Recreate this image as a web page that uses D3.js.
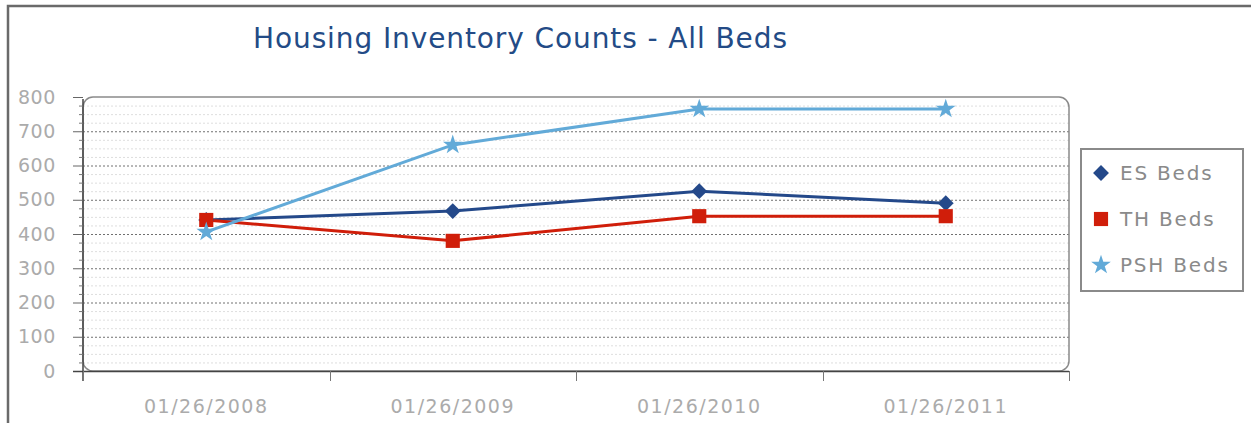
<!DOCTYPE html>
<html>
<head>
<meta charset="utf-8">
<title>Housing Inventory Counts</title>
<script src="https://cdn.jsdelivr.net/npm/d3@7"></script>
<style>
  html, body { margin: 0; padding: 0; background: #fff; overflow: hidden }
  svg { display: block; font-family: Tahoma, Verdana, "DejaVu Sans", sans-serif }
</style>
</head>
<body>
<div id="chart"></div>
<script>
  const dates = ['01/26/2008', '01/26/2009', '01/26/2010', '01/26/2011']
  const esBeds = [441, 467, 525, 490]
  const thBeds = [441, 380, 452, 452]
  const pshBeds = [406, 660, 765, 765]
  const seriesNames = ['ES Beds', 'TH Beds', 'PSH Beds']
  const yTicks = [0, 100, 200, 300, 400, 500, 600, 700, 800]

  const W = 1251, H = 423
  const m = { left: 83, right: 1069, top: 97, bottom: 371 }

  const series = [
    { name: seriesNames[0], values: esBeds, color: '#24498a', shape: d3.symbolDiamond2, size: 160 },
    { name: seriesNames[1], values: thBeds, color: '#d01e0a', shape: d3.symbolSquare, size: 200 },
    { name: seriesNames[2], values: pshBeds, color: '#62aad8', shape: d3.symbolStar, size: 120 }
  ]

  const svg = d3.select('#chart').append('svg')
    .attr('width', W).attr('height', H)

  // outer frame (top and left edges visible)
  svg.append('path')
    .attr('d', `M8,${H} V6 H${W}`)
    .attr('fill', 'none').attr('stroke', '#6a6a6a').attr('stroke-width', 2.5)

  svg.append('text')
    .attr('x', 520).attr('y', 48)
    .attr('text-anchor', 'middle')
    .attr('fill', '#234b86')
    .attr('textLength', 534)
    .style('font-size', '28px')
    .text('Housing Inventory Counts - All Beds')

  const x = d3.scaleBand().domain(dates).range([m.left, m.right])
  const y = d3.scaleLinear().domain([0, 800]).range([m.bottom, m.top])

  // minor grid
  const minor = d3.range(25, 800, 25).filter(d => d % 100 !== 0)
  svg.append('g').selectAll('line').data(minor).enter().append('line')
    .attr('x1', m.left).attr('x2', m.right)
    .attr('y1', d => y(d) + 0.5).attr('y2', d => y(d) + 0.5)
    .attr('stroke', '#dedede').attr('stroke-dasharray', '2,2')

  // major grid
  svg.append('g').selectAll('line').data(yTicks.slice(1, -1)).enter().append('line')
    .attr('x1', m.left).attr('x2', m.right)
    .attr('y1', d => y(d) + 0.5).attr('y2', d => y(d) + 0.5)
    .attr('stroke', '#707070').attr('stroke-dasharray', '2,2')

  // plot frame
  svg.append('rect')
    .attr('x', m.left).attr('y', m.top)
    .attr('width', m.right - m.left).attr('height', m.bottom - m.top)
    .attr('rx', 10)
    .attr('fill', 'none').attr('stroke', '#8a8a8a').attr('stroke-width', 1.5)

  const labelFont = 'Verdana, "DejaVu Sans", sans-serif'

  // y axis
  const yAxis = d3.axisLeft(y).tickValues(yTicks).tickSize(10).tickPadding(17)
  const gy = svg.append('g').attr('transform', `translate(${m.left},0)`).call(yAxis)
  gy.select('.domain').attr('stroke', '#444').attr('stroke-width', 1.5)
    .attr('d', `M0,${m.bottom + 10}V${m.top + 2}`)
  gy.selectAll('.tick line').attr('stroke', '#666')
  gy.selectAll('text').attr('fill', '#ababab')
    .style('font-size', '19px').style('letter-spacing', '0.6px')
    .attr('font-family', labelFont)

  const yMinor = d3.axisLeft(y).tickValues(minor).tickSize(4).tickFormat('')
  const gym = svg.append('g').attr('transform', `translate(${m.left},0)`).call(yMinor)
  gym.select('.domain').remove()
  gym.selectAll('.tick line').attr('stroke', '#777')

  // x axis with boundary ticks
  const xEdges = dates.map(d => x(d)).concat([m.right])
  svg.append('line')
    .attr('x1', m.left - 10).attr('x2', m.right)
    .attr('y1', m.bottom + 0.5).attr('y2', m.bottom + 0.5)
    .attr('stroke', '#444').attr('stroke-width', 1.5)
  svg.append('g').selectAll('line').data(xEdges).enter().append('line')
    .attr('x1', d => Math.round(d) + 0.5).attr('x2', d => Math.round(d) + 0.5)
    .attr('y1', m.bottom).attr('y2', m.bottom + 10)
    .attr('stroke', '#777')
  svg.append('g').selectAll('text').data(dates).enter().append('text')
    .attr('x', d => x(d) + x.bandwidth() / 2)
    .attr('y', 413)
    .attr('text-anchor', 'middle')
    .attr('fill', '#ababab')
    .style('font-size', '19px').style('letter-spacing', '1.5px')
    .attr('font-family', labelFont)
    .text(d => d)

  // series lines and markers
  const cx = d => x(d) + x.bandwidth() / 2
  const line = d3.line().x((v, i) => cx(dates[i])).y(v => y(v))

  series.forEach(s => {
    svg.append('path')
      .datum(s.values)
      .attr('d', line)
      .attr('fill', 'none')
      .attr('stroke', s.color)
      .attr('stroke-width', 3)
  })
  series.forEach(s => {
    svg.append('g').selectAll('path').data(s.values).enter().append('path')
      .attr('transform', (v, i) => `translate(${cx(dates[i])},${y(v)})`)
      .attr('d', d3.symbol().type(s.shape).size(s.size))
      .attr('fill', s.color)
  })

  // legend
  const lg = svg.append('g')
  lg.append('rect')
    .attr('x', 1081).attr('y', 149).attr('width', 162).attr('height', 142)
    .attr('fill', '#fff').attr('stroke', '#8a8a8a').attr('stroke-width', 2)
  const items = lg.selectAll('g.item').data(series).enter().append('g')
    .attr('transform', (s, i) => `translate(1101,${173 + i * 46})`)
  items.append('path')
    .attr('d', s => d3.symbol().type(s.shape).size(s.size)())
    .attr('fill', s => s.color)
  items.append('text')
    .attr('x', 19).attr('dy', '0.36em')
    .attr('fill', '#8a8a8a')
    .style('font-size', '20px').style('letter-spacing', '1.8px')
    .attr('font-family', labelFont)
    .text(s => s.name)
</script>
</body>
</html>
